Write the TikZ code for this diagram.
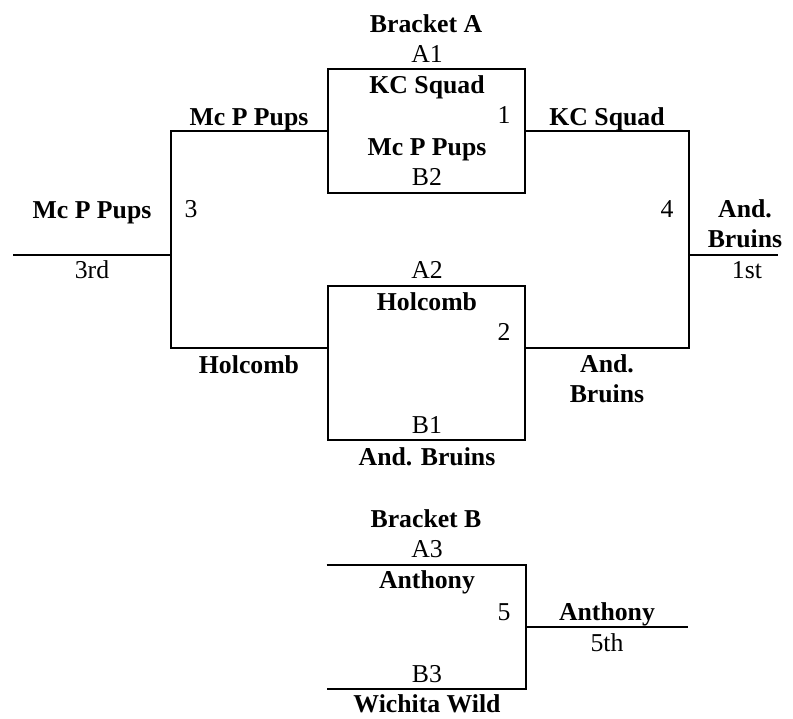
\documentclass[tikz,border=0pt]{standalone}
\usepackage{fontspec}
\setmainfont{Liberation Serif}
\usetikzlibrary{positioning}

\begin{document}
\begin{tikzpicture}[
  x=0.025cm, y=-0.025cm,
  team/.style={anchor=base, inner sep=0pt, align=center,
               font=\fontsize{18.3}{20.8}\selectfont\bfseries},
  seed/.style={anchor=base, inner sep=0pt,
               font=\fontsize{18.3}{20.8}\selectfont},
  game/.style={rectangle, draw, line width=1.2pt, minimum width=4.925cm, inner sep=0pt},
  open/.style={rectangle, minimum width=4.975cm, minimum height=3.1cm, inner sep=0pt},
  wire/.style={draw, line width=1.2pt},
]
\useasboundingbox (0,0) rectangle (793,718);
% ================= BRACKET A: games 1 and 2 ================================
\node[team] (brA) at (426,32) {Bracket A};
\node[game, minimum height=3.1cm] (g1) at (426.5,131) {};
\node[game, minimum height=3.85cm] (g2) at (426.5,363) {};
\node[seed] (a1) at (427,62) {A1};
\node[team] (g1top) at (427,93) {KC Squad};
\node[seed] (n1) at (504,123) {1};
\node[team] (g1bot) at (427,155) {Mc P Pups};
\node[seed] (b2) at (427,185) {B2};
\node[seed] (a2) at (427,278) {A2};
\node[team] (g2top) at (427,310) {Holcomb};
\node[seed] (n2) at (504,340) {2};
\node[seed] (b1) at (427,433) {B1};
\node[team] (g2bot) at (427,465) {And. Bruins};
% ================= games 3 (left) and 4 (right) ============================
\coordinate (g2w) at (328,348);
\coordinate (g2e) at (525,348);
\coordinate (j3) at (171,255);
\coordinate (j4) at (689,255);
\coordinate (out3) at (13,255);
\coordinate (out4) at (778,255);
\draw[wire] (g1.west) -| (j3) |- (g2w);
\draw[wire] (g1.east) -| (j4) |- (g2e);
\draw[wire] (j3) -- (out3);
\draw[wire] (j4) -- (out4);
\node[team] (w1) at (249,125) {Mc P Pups};
\node[team] (l1) at (249,373) {Holcomb};
\node[team] (w2) at (607,125) {KC Squad};
\node[team] (l2) at (607,402) {And.\\Bruins};
\node[seed] (n3) at (191,217) {3};
\node[seed] (n4) at (667,217) {4};
\node[team] (w3) at (92,218) {Mc P Pups};
\node[seed] (p3) at (92,278) {3rd};
\node[team] (w4) at (745,247) {And.\\Bruins};
\node[seed] (p1) at (747,278) {1st};
% ================= BRACKET B: game 5 =======================================
\node[team] (brB) at (426,527) {Bracket B};
\node[open] (g5) at (426.5,627) {};
\draw[wire] (g5.north west) -- (g5.north east) -- (g5.south east) -- (g5.south west);
\coordinate (out5) at (688,627);
\draw[wire] (g5.east) -- (out5);
\node[seed] (a3) at (427,557) {A3};
\node[team] (g5top) at (427,588) {Anthony};
\node[seed] (n5) at (504,620) {5};
\node[seed] (b3) at (427,682) {B3};
\node[team] (g5bot) at (427,712) {Wichita Wild};
\node[team] (w5) at (607,620) {Anthony};
\node[seed] (p5) at (607,651) {5th};
\end{tikzpicture}
\end{document}
